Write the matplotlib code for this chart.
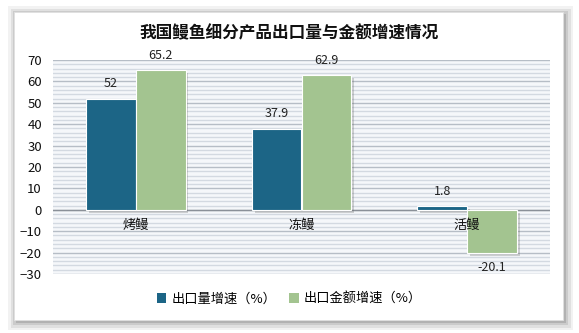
import numpy as np
import matplotlib.pyplot as plt
import matplotlib.patheffects as pe
from matplotlib.patches import Rectangle

plt.rcParams['font.family'] = ['Noto Sans CJK SC', 'DejaVu Sans']

# 数据
categories = ['烤鳗', '冻鳗', '活鳗']
volume_growth = [52, 37.9, 1.8]
value_growth = [65.2, 62.9, -20.1]
series_names = ['出口量增速（%）', '出口金额增速（%）']
colors = ['#1c6586', '#a3c490']

fig = plt.figure(figsize=(5.79, 3.33), dpi=100)
fig.patch.set_facecolor('white')

# 卡片阴影和白底
for i, a in enumerate([0.05, 0.07, 0.09, 0.12]):
    d = (4 - i) * 2.5
    fig.patches.append(Rectangle(((14 - d + 4) / 579, 1 - (320 + d) / 333),
                                 (549 + 2 * d - 4) / 579, (308 + 2 * d - 4) / 333,
                                 transform=fig.transFigure, facecolor='black',
                                 alpha=a, edgecolor='none', zorder=0))
fig.patches.append(Rectangle((14 / 579, 1 - 320 / 333), 549 / 579, 308 / 333,
                             transform=fig.transFigure, facecolor='white',
                             edgecolor='#e0e0e0', linewidth=0.6, zorder=1))

ax = fig.add_axes([53 / 579, 1 - 274 / 333, 497 / 579, 214 / 333], zorder=2)
ax.set_facecolor('#f5f7fa')
ax.set_xlim(-0.5, 2.5)
ax.set_ylim(-30, 70)

# 背景条纹
for y in np.arange(-30, 71, 2):
    if y % 10 == 0:
        ax.axhline(y, color='#b6bdc6', linewidth=1.0, zorder=1)
    else:
        ax.axhline(y, color='#d3d9e1', linewidth=1.0, zorder=1)
ax.axhline(0, color='#8a9098', linewidth=1.0, zorder=2)

x = np.arange(len(categories))
w = 0.3
shadow = [pe.SimplePatchShadow(offset=(2, -2), alpha=0.25, shadow_rgbFace='#555555'),
          pe.Normal()]
b1 = ax.bar(x - w / 2, volume_growth, w, color=colors[0], edgecolor='white',
            linewidth=0.8, zorder=3, label=series_names[0], path_effects=shadow)
b2 = ax.bar(x + w / 2, value_growth, w, color=colors[1], edgecolor='white',
            linewidth=0.8, zorder=3, label=series_names[1], path_effects=shadow)

for bars, vals in [(b1, volume_growth), (b2, value_growth)]:
    for bar, v in zip(bars, vals):
        cx = bar.get_x() + bar.get_width() / 2
        if v >= 0:
            ax.annotate(f'{v:g}', (cx, v), xytext=(0, 6), textcoords='offset points',
                        ha='center', va='bottom', fontsize=9, color='#222222', zorder=5)
        else:
            ax.annotate(f'{v:g}', (cx, v), xytext=(0, -6), textcoords='offset points',
                        ha='center', va='top', fontsize=9, color='#222222', zorder=5)

# 类别标签放在零线下方
for xi, c in zip(x, categories):
    ax.text(xi, -4.2, c, ha='center', va='top', fontsize=9.5, color='#111111', zorder=5)

ax.set_xticks([])
ax.set_yticks(np.arange(-30, 71, 10))
ax.tick_params(axis='y', length=0, labelsize=9.5, pad=8, labelcolor='#111111')
for s in ax.spines.values():
    s.set_visible(False)

fig.text(0.5, 1 - 33 / 333, '我国鳗鱼细分产品出口量与金额增速情况', ha='center', va='center',
         fontsize=12, fontweight='bold', color='#111111', zorder=5)

leg = fig.legend(handles=[b1, b2], labels=series_names, loc='center',
                 bbox_to_anchor=(0.5, 1 - 299 / 333), ncol=2, frameon=False,
                 fontsize=9.5, handlelength=0.7, handleheight=0.7, handletextpad=0.4,
                 columnspacing=1.0)
for h in leg.legend_handles:
    h.set_path_effects([])
    h.set_edgecolor('none')
leg.set_zorder(5)

fig.savefig('out.png', dpi=100)
